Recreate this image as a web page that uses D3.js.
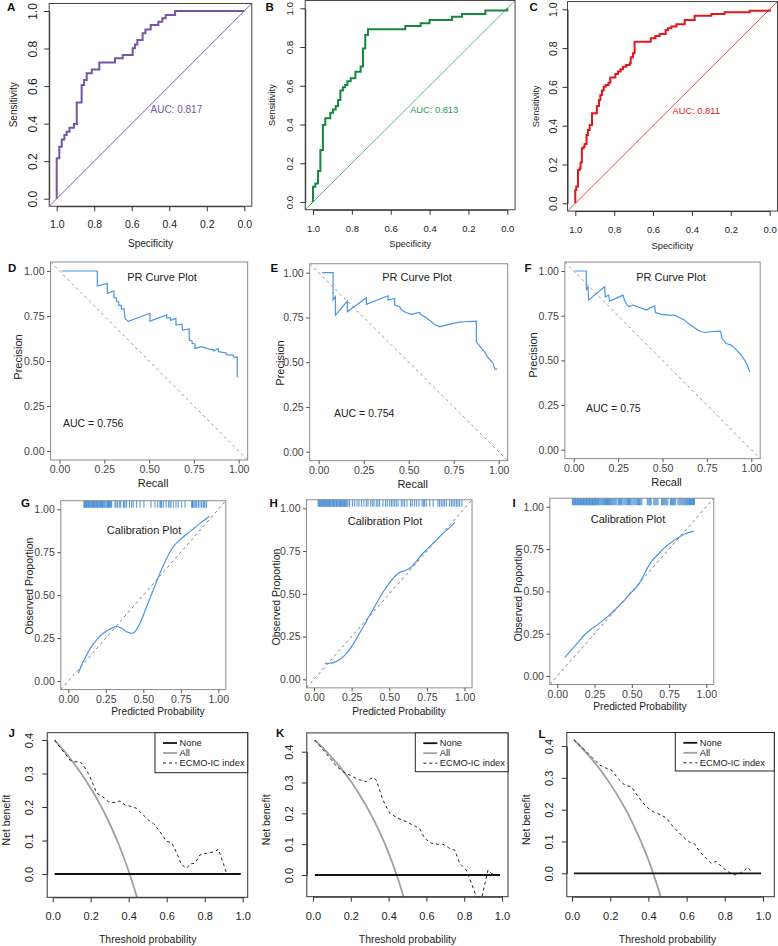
<!DOCTYPE html>
<html lang="en">
<head>
<meta charset="UTF-8">
<title>ROC / PR / Calibration / DCA</title>
<style>
  body { margin: 0; background: #fff; }
</style>
</head>
<body>
<script src="https://cdn.jsdelivr.net/npm/d3@7"></script>
<script>
var FONT = '"Liberation Sans", Arial, sans-serif';
var INK = "#222";

// ---------- ROC curves (specificity, sensitivity at each step) ----------
var rocSpecA = [1, .986, .973, .959, .947, .932, .908, .893, .867, .854, .84, .813, .773, .689, .648, .595, .583, .57, .542, .527, .499, .458, .437, .419, .369, 0];
var rocSensA = [0, .215, .277, .316, .339, .357, .378, .398, .513, .606, .632, .668, .689, .726, .748, .766, .801, .822, .845, .881, .902, .925, .943, .961, .979, 1];
var rocSpecB = [1, .988, .974, .962, .949, .937, .911, .897, .883, .871, .859, .846, .834, .823, .806, .782, .755, .743, .731, .717, .525, .446, .4, .285, .233, .113, 0, 0];
var rocSensB = [0, .079, .096, .16, .268, .398, .432, .461, .478, .496, .527, .576, .592, .604, .624, .639, .673, .699, .793, .862, .892, .909, .923, .94, .957, .971, .988, 1];
var rocSpecC = [1, .995, .986, .978, .973, .966, .957, .952, .942, .935, .926, .914, .889, .878, .871, .863, .854, .844, .829, .82, .794, .78, .767, .755, .738, .72, .715, .703, .695, .612, .588, .566, .535, .523, .506, .48, .437, .386, .3, .232, .103, 0, 0];
var rocSensC = [0, .069, .086, .172, .18, .21, .284, .292, .306, .352, .378, .404, .464, .502, .533, .558, .581, .601, .61, .622, .649, .667, .679, .691, .704, .713, .722, .753, .773, .833, .851, .863, .873, .893, .902, .911, .923, .945, .967, .976, .985, .993, 1];
var rocAuc = ["AUC: 0.817", "AUC: 0.813", "AUC: 0.811"];
var rocTicks = [1, 0.8, 0.6, 0.4, 0.2, 0];

// ---------- PR curves [recall, precision] ----------
var prD = [[0.012,1.0],[0.211,1.0],[0.211,0.917],[0.267,0.931],[0.267,0.876],[0.304,0.889],[0.304,0.852],[0.318,0.85],[0.318,0.83],[0.33,0.828],[0.33,0.81],[0.345,0.808],[0.345,0.79],[0.36,0.79],[0.366,0.735],[0.384,0.72],[0.505,0.765],[0.505,0.722],[0.598,0.756],[0.598,0.74],[0.62,0.74],[0.62,0.726],[0.65,0.737],[0.65,0.7],[0.683,0.705],[0.687,0.672],[0.724,0.678],[0.724,0.617],[0.74,0.612],[0.74,0.598],[0.756,0.595],[0.756,0.57],[0.793,0.58],[0.83,0.567],[0.858,0.562],[0.86,0.556],[0.886,0.568],[0.886,0.552],[0.93,0.545],[0.93,0.535],[0.97,0.533],[0.975,0.519],[0.992,0.522],[0.992,0.41]];
var prE = [[0.019,1.0],[0.08,1.0],[0.08,0.847],[0.093,0.866],[0.093,0.763],[0.159,0.841],[0.159,0.782],[0.265,0.86],[0.265,0.823],[0.385,0.871],[0.385,0.847],[0.422,0.856],[0.422,0.819],[0.45,0.81],[0.46,0.791],[0.485,0.778],[0.514,0.767],[0.561,0.778],[0.57,0.763],[0.598,0.748],[0.626,0.726],[0.644,0.711],[0.672,0.698],[0.69,0.703],[0.774,0.722],[0.811,0.726],[0.876,0.729],[0.876,0.614],[0.894,0.591],[0.907,0.573],[0.922,0.558],[0.937,0.53],[0.95,0.515],[0.969,0.493],[0.978,0.461],[0.993,0.461]];
var prF = [[0.006,1.0],[0.071,1.0],[0.071,0.893],[0.081,0.912],[0.084,0.837],[0.174,0.912],[0.178,0.856],[0.197,0.865],[0.203,0.832],[0.278,0.865],[0.287,0.832],[0.31,0.8],[0.334,0.809],[0.362,0.8],[0.409,0.781],[0.456,0.806],[0.46,0.768],[0.493,0.757],[0.531,0.753],[0.568,0.753],[0.597,0.738],[0.625,0.725],[0.644,0.707],[0.672,0.688],[0.7,0.669],[0.719,0.66],[0.747,0.656],[0.765,0.66],[0.827,0.664],[0.835,0.622],[0.859,0.594],[0.887,0.585],[0.906,0.57],[0.925,0.548],[0.944,0.529],[0.962,0.501],[0.977,0.473],[0.991,0.436]];
var prAuc = ["AUC = 0.756", "AUC = 0.754", "AUC = 0.75"];
var quarterTicks = [0, 0.25, 0.5, 0.75, 1];

// ---------- Calibration [predicted, observed] + rug of predictions ----------
var calG = [[0.067,0.045],[0.1,0.113],[0.144,0.186],[0.189,0.239],[0.233,0.278],[0.278,0.303],[0.322,0.317],[0.356,0.307],[0.389,0.287],[0.422,0.278],[0.444,0.287],[0.478,0.336],[0.522,0.433],[0.567,0.53],[0.611,0.627],[0.656,0.715],[0.7,0.783],[0.756,0.831],[0.811,0.87],[0.878,0.918],[0.94,0.96]];
var calH = [[0.071,0.094],[0.104,0.094],[0.137,0.099],[0.182,0.123],[0.226,0.162],[0.27,0.22],[0.315,0.288],[0.359,0.357],[0.403,0.425],[0.447,0.493],[0.492,0.552],[0.536,0.6],[0.569,0.626],[0.602,0.635],[0.636,0.649],[0.669,0.678],[0.713,0.727],[0.757,0.766],[0.802,0.805],[0.846,0.844],[0.901,0.887],[0.935,0.916]];
var calI = [[0.049,0.108],[0.094,0.154],[0.139,0.199],[0.183,0.242],[0.228,0.278],[0.273,0.305],[0.318,0.337],[0.362,0.37],[0.407,0.409],[0.452,0.449],[0.497,0.494],[0.53,0.522],[0.564,0.567],[0.597,0.626],[0.631,0.675],[0.676,0.719],[0.72,0.758],[0.765,0.789],[0.81,0.817],[0.855,0.839],[0.917,0.856]];
var rugG = [0.104,0.108,0.113,0.117,0.121,0.126,0.13,0.135,0.139,0.144,0.149,0.153,0.158,0.162,0.167,0.171,0.176,0.18,0.186,0.19,0.195,0.2,0.206,0.211,0.215,0.222,0.228,0.233,0.24,0.245,0.252,0.258,0.262,0.268,0.275,0.281,0.289,0.311,0.318,0.327,0.34,0.349,0.367,0.372,0.378,0.389,0.407,0.422,0.433,0.456,0.478,0.504,0.551,0.578,0.596,0.611,0.616,0.622,0.633,0.651,0.667,0.678,0.684,0.7,0.718,0.733,0.756,0.778,0.822,0.828,0.833,0.844,0.85,0.856,0.867,0.878,0.889,0.9,0.906,0.911,0.922];
var rugH = [0.027,0.032,0.037,0.042,0.047,0.052,0.057,0.062,0.067,0.072,0.077,0.082,0.088,0.093,0.098,0.103,0.108,0.113,0.119,0.124,0.129,0.134,0.139,0.145,0.15,0.155,0.16,0.166,0.171,0.176,0.181,0.187,0.192,0.197,0.203,0.208,0.213,0.219,0.226,0.237,0.255,0.27,0.286,0.299,0.315,0.332,0.348,0.359,0.377,0.388,0.399,0.414,0.425,0.436,0.458,0.476,0.487,0.503,0.514,0.525,0.536,0.547,0.558,0.58,0.591,0.602,0.618,0.642,0.653,0.669,0.682,0.698,0.718,0.726,0.735,0.746,0.769,0.791,0.824,0.835,0.846,0.857,0.868,0.879,0.901,0.913,0.924,0.935,0.946,0.957,0.968,0.983];
var rugI = [0.101,0.106,0.111,0.116,0.121,0.126,0.131,0.136,0.141,0.146,0.151,0.156,0.161,0.166,0.171,0.176,0.181,0.186,0.191,0.196,0.201,0.206,0.211,0.216,0.221,0.226,0.231,0.236,0.241,0.246,0.251,0.256,0.261,0.266,0.271,0.276,0.281,0.288,0.295,0.302,0.309,0.316,0.323,0.33,0.337,0.344,0.351,0.358,0.365,0.372,0.379,0.386,0.393,0.4,0.41,0.418,0.425,0.432,0.44,0.448,0.455,0.463,0.47,0.478,0.485,0.493,0.5,0.508,0.515,0.522,0.53,0.537,0.545,0.552,0.56,0.567,0.604,0.61,0.617,0.624,0.63,0.648,0.655,0.662,0.669,0.676,0.7,0.707,0.714,0.721,0.728,0.735,0.742,0.76,0.767,0.774,0.781,0.788,0.795,0.81,0.817,0.824,0.831,0.838,0.845,0.852,0.859,0.866,0.873,0.88,0.887,0.894,0.9,0.907,0.914,0.92];

// ---------- Decision curves ----------
var dcaThresh = [0.01, 0.05, 0.1, 0.15, 0.2, 0.25, 0.3, 0.35, 0.4, 0.45, 0.5];
var dcaAllJ = [0.399, 0.374, 0.339, 0.300, 0.256, 0.207, 0.150, 0.085, 0.008, -0.082, -0.19];
var dcaAllK = [0.437, 0.414, 0.381, 0.345, 0.304, 0.257, 0.204, 0.143, 0.072, -0.013, -0.114];
var dcaAllL = [0.419, 0.395, 0.361, 0.324, 0.281, 0.233, 0.179, 0.115, 0.042, -0.045, -0.15];
var dcaNoneX = [0.01, 0.99];
var dcaNoneY = [0, 0];
var dcaModelJ = [[0.01,0.40],[0.047,0.372],[0.091,0.34],[0.109,0.335],[0.144,0.335],[0.161,0.325],[0.188,0.30],[0.214,0.266],[0.232,0.241],[0.258,0.233],[0.293,0.216],[0.328,0.213],[0.354,0.218],[0.381,0.206],[0.416,0.201],[0.442,0.196],[0.468,0.181],[0.504,0.161],[0.53,0.151],[0.565,0.126],[0.60,0.097],[0.626,0.094],[0.653,0.062],[0.679,0.027],[0.705,0.017],[0.723,0.03],[0.749,0.032],[0.775,0.057],[0.81,0.062],[0.854,0.067],[0.872,0.074],[0.898,0.032],[0.916,0.0],[0.933,0.0]];
var dcaModelK = [[0.01,0.438],[0.062,0.40],[0.123,0.354],[0.159,0.335],[0.194,0.324],[0.238,0.31],[0.282,0.303],[0.317,0.317],[0.335,0.308],[0.37,0.243],[0.406,0.2],[0.45,0.184],[0.494,0.173],[0.529,0.162],[0.564,0.151],[0.591,0.119],[0.626,0.103],[0.661,0.10],[0.688,0.10],[0.723,0.086],[0.75,0.081],[0.776,0.038],[0.811,0.016],[0.838,-0.027],[0.864,-0.07],[0.894,-0.07],[0.926,0.016],[0.944,0.005],[0.965,0.002],[0.982,-0.005]];
var dcaModelL = [[0.01,0.42],[0.075,0.382],[0.145,0.34],[0.18,0.33],[0.206,0.325],[0.241,0.298],[0.276,0.277],[0.311,0.272],[0.346,0.241],[0.389,0.209],[0.424,0.194],[0.468,0.183],[0.494,0.173],[0.529,0.147],[0.572,0.12],[0.599,0.105],[0.625,0.094],[0.642,0.092],[0.668,0.068],[0.703,0.047],[0.729,0.031],[0.756,0.037],[0.782,0.021],[0.817,0.005],[0.852,-0.005],[0.878,0.0],[0.904,0.01],[0.921,0.019],[0.939,0.005]];
var dcaLegend = ["None", "All", "ECMO-IC index"];
var dcaXTicks = [0, 0.2, 0.4, 0.6, 0.8, 1.0];
var dcaYTicks = [0, 0.1, 0.2, 0.3, 0.4];

var svg = d3.select("body").append("svg")
  .attr("width", 778).attr("height", 946)
  .style("font-family", FONT);

var clipCount = 0;
function makeClip(l, t, r, b) {
  var id = "clip" + (clipCount++);
  svg.append("clipPath").attr("id", id).append("rect")
    .attr("x", l).attr("y", t).attr("width", r - l).attr("height", b - t);
  return "url(#" + id + ")";
}

function panelLabel(t, x, y) {
  svg.append("text").attr("x", x).attr("y", y)
    .attr("font-size", 11.5).attr("font-weight", "bold").attr("fill", "#111").text(t);
}

function vText(g, t, x, y, fs, col) {
  g.append("text").attr("transform", "translate(" + x + "," + y + ") rotate(-90)")
    .attr("text-anchor", "middle").attr("dy", "0.35em")
    .attr("font-size", fs).attr("fill", col || INK).text(t);
}

// base-R look: black ticks, rotated y labels
function baseAxes(g, x, y, box, xt, yt, fmt, o) {
  var ax = g.append("g").attr("transform", "translate(0," + box.b + ")")
    .call(d3.axisBottom(x).tickValues(xt).tickFormat(fmt).tickSize(5).tickSizeOuter(0));
  ax.selectAll(".tick text").attr("y", o.xOff).attr("dy", 0)
    .attr("font-size", o.fsX).attr("font-family", FONT).attr("fill", INK);
  var ay = g.append("g").attr("transform", "translate(" + box.l + ",0)")
    .call(d3.axisLeft(y).tickValues(yt).tickFormat(fmt).tickSize(5).tickSizeOuter(0));
  ay.selectAll(".tick text").attr("x", 0).attr("y", -o.yOff).attr("dy", 0)
    .attr("transform", "rotate(-90)").attr("text-anchor", "middle")
    .attr("font-size", o.fsY).attr("font-family", FONT).attr("fill", INK);
  g.selectAll(".domain, .tick line").attr("stroke", "#333");
}

// ggplot look: grey labels, short ticks, no axis line
function ggAxes(g, x, y, box, ticks) {
  var fmt = d3.format(".2f");
  var ax = g.append("g").attr("transform", "translate(0," + box.b + ")")
    .call(d3.axisBottom(x).tickValues(ticks).tickFormat(fmt).tickSize(3.5).tickPadding(2.5));
  var ay = g.append("g").attr("transform", "translate(" + box.l + ",0)")
    .call(d3.axisLeft(y).tickValues(ticks).tickFormat(fmt).tickSize(3.5).tickPadding(2.5));
  [ax, ay].forEach(function(a) {
    a.select(".domain").remove();
    a.selectAll(".tick line").attr("stroke", "#555");
    a.selectAll(".tick text").attr("font-size", 10.5).attr("font-family", FONT).attr("fill", "#444");
  });
}

// ---------------- ROC ----------------
function drawROC(o) {
  var x = d3.scaleLinear().domain([1, 0]).range(o.xr);
  var y = d3.scaleLinear().domain([0, 1]).range(o.yr);
  var box = { l: x(1.04), r: x(-0.04), t: y(1.04), b: y(-0.04) };
  var g = svg.append("g");
  var clip = makeClip(box.l, box.t, box.r, box.b);
  g.append("line").attr("clip-path", clip)
    .attr("x1", x(1.04)).attr("y1", y(-0.04)).attr("x2", x(-0.04)).attr("y2", y(1.04))
    .attr("stroke", o.diag).attr("stroke-width", 1);
  var pts = o.spec.map(function(s, i) { return [s, o.sens[i]]; });
  var line = d3.line().x(function(d) { return x(d[0]); }).y(function(d) { return y(d[1]); })
    .curve(d3.curveStepBefore);
  g.append("path").datum(pts).attr("d", line).attr("fill", "none")
    .attr("stroke", o.color).attr("stroke-width", 2);
  g.append("rect").attr("x", box.l).attr("y", box.t).attr("width", box.r - box.l)
    .attr("height", box.b - box.t).attr("fill", "none").attr("stroke", "#444");
  baseAxes(g, x, y, box, rocTicks, rocTicks, d3.format(".1f"),
    { xOff: 22, yOff: o.yOff, fsX: o.fsX, fsY: o.fsY });
  g.append("text").attr("x", x(0.5)).attr("y", y(0.5)).attr("dy", "0.85em")
    .attr("font-size", o.fsA).attr("fill", o.txt).text(o.auc);
  g.append("text").attr("x", (o.xr[0] + o.xr[1]) / 2).attr("y", o.titleY)
    .attr("text-anchor", "middle").attr("font-size", o.fsT).attr("fill", INK).text("Specificity");
  vText(g, "Sensitivity", o.ylabX, (o.yr[0] + o.yr[1]) / 2, o.fsT);
}

drawROC({ spec: rocSpecA, sens: rocSensA, xr: [56.7, 244.3], yr: [198.7, 11],
  color: "#7655a3", diag: "#7d62ab", txt: "#7655a3", auc: rocAuc[0],
  fsX: 10.5, fsY: 12, fsA: 10, fsT: 10, yOff: 12, ylabX: 13.3, titleY: 247 });
drawROC({ spec: rocSpecB, sens: rocSensB, xr: [313, 507.3], yr: [202, 8.3],
  color: "#17873f", diag: "#5cb88a", txt: "#2a9a5a", auc: rocAuc[1],
  fsX: 9.5, fsY: 9.8, fsA: 9.3, fsT: 9.3, yOff: 12, ylabX: 272, titleY: 247 });
drawROC({ spec: rocSpecC, sens: rocSensC, xr: [575.3, 769.7], yr: [203.3, 9.3],
  color: "#e3161c", diag: "#ee4a4f", txt: "#e3161c", auc: rocAuc[2],
  fsX: 9.5, fsY: 10.5, fsA: 9.3, fsT: 9.3, yOff: 11, ylabX: 535.3, titleY: 249 });
panelLabel("A", 7, 10.5);
panelLabel("B", 265.5, 10.5);
panelLabel("C", 529.5, 10.5);

// ---------------- PR ----------------
function drawPR(o) {
  var x = d3.scaleLinear().domain([0, 1]).range(o.xr);
  var y = d3.scaleLinear().domain([0, 1]).range(o.yr);
  var box = { l: x(-0.05), r: x(1.05), t: y(1.05), b: y(-0.05) };
  var g = svg.append("g");
  g.append("line").attr("x1", box.l).attr("y1", box.t).attr("x2", box.r).attr("y2", box.b)
    .attr("stroke", "#9a9a9a").attr("stroke-width", 1).attr("stroke-dasharray", "3,3");
  var line = d3.line().x(function(d) { return x(d[0]); }).y(function(d) { return y(d[1]); });
  g.append("path").datum(o.data).attr("d", line).attr("fill", "none")
    .attr("stroke", "#4a96e0").attr("stroke-width", 1.2);
  g.append("rect").attr("x", box.l).attr("y", box.t).attr("width", box.r - box.l)
    .attr("height", box.b - box.t).attr("fill", "none").attr("stroke", "#8c8c8c");
  ggAxes(g, x, y, box, quarterTicks);
  g.append("text").attr("x", o.title[0]).attr("y", o.title[1]).attr("text-anchor", "middle")
    .attr("font-size", 11).attr("fill", INK).text("PR Curve Plot");
  g.append("text").attr("x", o.aucPos[0]).attr("y", o.aucPos[1])
    .attr("font-size", 10.5).attr("fill", INK).text(o.auc);
  g.append("text").attr("x", (box.l + box.r) / 2 + 4).attr("y", box.b + 27)
    .attr("text-anchor", "middle").attr("font-size", 11).attr("fill", INK).text("Recall");
  vText(g, "Precision", o.ylab[0], o.ylab[1], 11);
}

drawPR({ data: prD, xr: [59.5, 238.7], yr: [451, 271], auc: prAuc[0],
  title: [162, 281], aucPos: [63, 427], ylab: [18, 357] });
drawPR({ data: prE, xr: [318.7, 498.7], yr: [451.7, 272.7], auc: prAuc[1],
  title: [417, 281], aucPos: [334, 417], ylab: [279.7, 363] });
drawPR({ data: prF, xr: [573.7, 751.3], yr: [449.7, 271], auc: prAuc[2],
  title: [671, 281], aucPos: [586, 412], ylab: [533, 355] });
panelLabel("D", 8, 271.7);
panelLabel("E", 270.5, 271.7);
panelLabel("F", 524.5, 271.7);

// ---------------- Calibration ----------------
function drawCal(o) {
  var x = d3.scaleLinear().domain([0, 1]).range(o.xr);
  var y = d3.scaleLinear().domain([0, 1]).range(o.yr);
  var box = { l: x(-0.05), r: x(1.05), t: y(1.05), b: y(-0.05) };
  var g = svg.append("g");
  g.append("line").attr("x1", box.l).attr("y1", box.b).attr("x2", box.r).attr("y2", box.t)
    .attr("stroke", "#808080").attr("stroke-width", 1).attr("stroke-dasharray", "3,3");
  g.selectAll(".rug").data(o.rug).enter().append("line")
    .attr("x1", function(d) { return x(d); }).attr("x2", function(d) { return x(d); })
    .attr("y1", box.t).attr("y2", box.t + 7)
    .attr("stroke", "#4a90d9").attr("stroke-width", 1);
  var line = d3.line().x(function(d) { return x(d[0]); }).y(function(d) { return y(d[1]); })
    .curve(d3.curveCatmullRom);
  g.append("path").datum(o.data).attr("d", line).attr("fill", "none")
    .attr("stroke", "#4a96e0").attr("stroke-width", 1.2);
  g.append("rect").attr("x", box.l).attr("y", box.t).attr("width", box.r - box.l)
    .attr("height", box.b - box.t).attr("fill", "none").attr("stroke", "#8c8c8c");
  ggAxes(g, x, y, box, quarterTicks);
  g.append("text").attr("x", o.title[0]).attr("y", o.title[1]).attr("text-anchor", "middle")
    .attr("font-size", 11).attr("fill", INK).text("Calibration Plot");
  g.append("text").attr("x", o.xlab[0]).attr("y", o.xlab[1]).attr("text-anchor", "middle")
    .attr("font-size", 10.2).attr("fill", INK).text("Predicted Probability");
  vText(g, "Observed Proportion", o.ylab[0], o.ylab[1], 10.5);
}

drawCal({ data: calG, rug: rugG, xr: [68.3, 218.3], yr: [681, 509.3],
  title: [144, 534], xlab: [158, 715], ylab: [29, 586] });
drawCal({ data: calH, rug: rugH, xr: [314, 464.5], yr: [679.3, 508.3],
  title: [385, 524.7], xlab: [399, 714.5], ylab: [276.3, 597] });
drawCal({ data: calI, rug: rugI, xr: [557.3, 706.3], yr: [676, 506.7],
  title: [628, 523.3], xlab: [640, 710], ylab: [518, 593] });
panelLabel("G", 21, 506.7);
panelLabel("H", 269.5, 506.7);
panelLabel("I", 512.5, 506.7);

// ---------------- Decision curves ----------------
function drawDCA(o) {
  var x = d3.scaleLinear().domain([0, 1]).range(o.xr);
  var y = d3.scaleLinear().domain([0, 0.4]).range(o.yr);
  var box = o.box;
  var g = svg.append("g");
  var clip = makeClip(box.l, box.t, box.r, box.b);
  var line = d3.line().x(function(d) { return x(d[0]); }).y(function(d) { return y(d[1]); });
  var none = dcaNoneX.map(function(t, i) { return [t, dcaNoneY[i]]; });
  var all = dcaThresh.map(function(t, i) { return [t, o.all[i]]; });
  g.append("path").datum(all).attr("clip-path", clip)
    .attr("d", line.curve(d3.curveMonotoneX)).attr("fill", "none")
    .attr("stroke", "#a0a0a0").attr("stroke-width", 1.8);
  g.append("path").datum(none).attr("clip-path", clip)
    .attr("d", line.curve(d3.curveLinear)).attr("fill", "none")
    .attr("stroke", "#111").attr("stroke-width", 1.8);
  g.append("path").datum(o.model).attr("clip-path", clip)
    .attr("d", line.curve(d3.curveLinear)).attr("fill", "none")
    .attr("stroke", "#222").attr("stroke-width", 1).attr("stroke-dasharray", "3,3");
  g.append("rect").attr("x", box.l).attr("y", box.t).attr("width", box.r - box.l)
    .attr("height", box.b - box.t).attr("fill", "none").attr("stroke", "#333");
  baseAxes(g, x, y, box, dcaXTicks, dcaYTicks, d3.format(".1f"),
    { xOff: 23, yOff: 14, fsX: 11, fsY: 11 });
  g.append("text").attr("x", x(0.5)).attr("y", box.b + 46).attr("text-anchor", "middle")
    .attr("font-size", 10.5).attr("fill", INK).text("Threshold probability");
  vText(g, "Net benefit", o.ylabX, (box.t + box.b) / 2 + 5, 10.5);

  // legend
  var lg = g.append("g");
  lg.append("rect").attr("x", o.leg[0]).attr("y", box.t).attr("width", box.r - o.leg[0])
    .attr("height", o.leg[1] - box.t).attr("fill", "#fff").attr("stroke", "#222");
  var styles = [
    { c: "#111", w: 1.8, d: null },
    { c: "#a0a0a0", w: 1.8, d: null },
    { c: "#222", w: 1, d: "3,3" }
  ];
  dcaLegend.forEach(function(name, i) {
    var yy = box.t + 10.3 + i * 10;
    lg.append("line").attr("x1", o.leg[0] + 8).attr("x2", o.leg[0] + 22)
      .attr("y1", yy).attr("y2", yy).attr("stroke", styles[i].c)
      .attr("stroke-width", styles[i].w).attr("stroke-dasharray", styles[i].d);
    lg.append("text").attr("x", o.leg[0] + 24.5).attr("y", yy).attr("dy", "0.35em")
      .attr("font-size", 9.3).attr("fill", INK).text(name);
  });
}

drawDCA({ all: dcaAllJ, model: dcaModelJ, xr: [52.7, 242.7], yr: [874, 740],
  box: { l: 47.2, t: 732.7, r: 247.7, b: 897.3 }, leg: [155, 772.7], ylabX: 6.5 });
drawDCA({ all: dcaAllK, model: dcaModelK, xr: [313, 502], yr: [875, 751.7],
  box: { l: 306.8, t: 732.9, r: 508, b: 896.7 }, leg: [415.3, 771.7], ylabX: 266.3 });
drawDCA({ all: dcaAllL, model: dcaModelL, xr: [572, 763], yr: [873.3, 746],
  box: { l: 566.8, t: 732.5, r: 774.3, b: 896.7 }, leg: [675.3, 771], ylabX: 526.3 });
panelLabel("J", 8.5, 737.3);
panelLabel("K", 276, 737.3);
panelLabel("L", 538.5, 738);
</script>
</body>
</html>
